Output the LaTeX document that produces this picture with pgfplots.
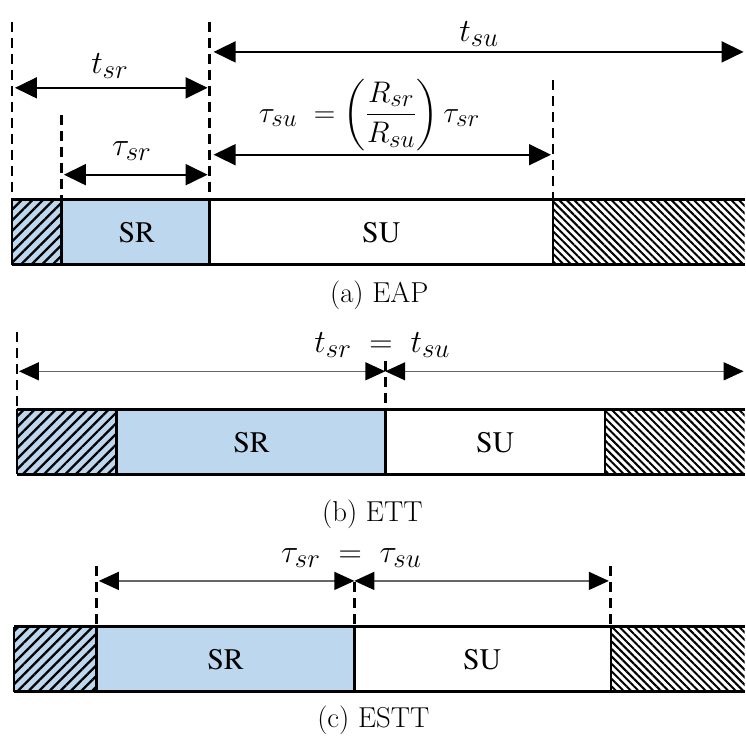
\documentclass[border=0pt]{standalone}
\usepackage{amsmath}
\usepackage{graphicx}
\usepackage{fontspec}
\usepackage{pgfplots}
\pgfplotsset{compat=1.18}
\usetikzlibrary{arrows.meta,patterns.meta}
\definecolor{srblue}{RGB}{189,215,238}
\newcommand\ml[2][1.3]{\fontsize{24.88}{28}\selectfont\scalebox{#1}{$#2$}}
\newcommand\cp[1]{\fontsize{24.88}{28}\selectfont\scalebox{1.16}{#1}}
\newcommand\bl[1]{\fontencoding{T1}\fontfamily{ptm}\fontsize{24.88}{28}\selectfont\scalebox{1.2}{#1}}
\tikzset{
  bx/.style={line width=2.8pt, draw=black},
  hl/.style={draw=none, pattern={Lines[angle=45,distance=7.5pt,line width=2.3pt]}, pattern color=black},
  hr/.style={draw=none, pattern={Lines[angle=-45,distance=5.3pt,line width=2pt]}, pattern color=black},
  dsh/.style={line width=2.8pt, dash pattern=on 10pt off 6pt},
  arr/.style={line width=1.8pt, {Triangle[length=22pt,width=21pt]}-{Triangle[length=22pt,width=21pt]}},
  arrt/.style={line width=1.5pt, black!60, {Triangle[length=20pt,width=18pt,color=black]}-{Triangle[length=20pt,width=18pt,color=black]}},
  mylab/.style={inner sep=0pt},
}
\begin{document}
\begin{tikzpicture}
\begin{axis}[
  width=746pt, height=742pt, scale only axis,
  xmin=0, xmax=746, ymin=0, ymax=742, y dir=reverse,
  hide axis, clip=false,
]
\addplot[draw=none] coordinates {(0,0) (746,742)};

% ---------------- (a) EAP ----------------
\addplot[fill=srblue, draw=none] coordinates {(12,200) (210,200) (210,265) (12,265)};
\addplot[hl] coordinates {(12,200) (62,200) (62,265) (12,265)};
\addplot[hr] coordinates {(554,200) (746,200) (746,265) (554,265)};
\addplot[bx] coordinates {(12,200) (746,200)};
\addplot[bx] coordinates {(12,265) (746,265)};
\addplot[bx] coordinates {(12,200) (12,265)};
\addplot[bx] coordinates {(62,200) (62,265)};
\addplot[bx] coordinates {(210,200) (210,265)};
\addplot[bx] coordinates {(554,200) (554,265)};
\addplot[dsh] coordinates {(12,22) (12,200)};
\addplot[dsh] coordinates {(62,115) (62,200)};
\addplot[dsh] coordinates {(210,22) (210,200)};
\addplot[dsh] coordinates {(554,80) (554,200)};
\addplot[arr] coordinates {(15,88) (208,88)};
\addplot[arr] coordinates {(64,175) (208,175)};
\addplot[arr] coordinates {(214,52) (745,52)};
\addplot[arr] coordinates {(214,155) (552,155)};
\node[mylab] at (axis cs:110,66) {\ml{t_{sr}}};
\node[mylab] at (axis cs:132,151) {\ml{\tau_{sr}}};
\node[mylab] at (axis cs:480,34) {\ml{t_{su}}};
\node[mylab] at (axis cs:370,115) {\ml[1.2]{\tau_{su}\;=\left(\dfrac{R_{sr}}{R_{su}}\right)\tau_{sr}}};
\node at (axis cs:137,233) {\bl{SR}};
\node at (axis cs:382,233) {\bl{SU}};
\node at (axis cs:380,296) {\cp{(a) EAP}};

% ---------------- (b) ETT ----------------
\addplot[fill=srblue, draw=none] coordinates {(17,410) (386,410) (386,475) (17,475)};
\addplot[hl] coordinates {(17,410) (117,410) (117,475) (17,475)};
\addplot[hr] coordinates {(606,410) (746,410) (746,475) (606,475)};
\addplot[bx] coordinates {(17,410) (746,410)};
\addplot[bx] coordinates {(17,475) (746,475)};
\addplot[bx] coordinates {(17,410) (17,475)};
\addplot[bx] coordinates {(117,410) (117,475)};
\addplot[bx] coordinates {(386,410) (386,475)};
\addplot[bx, line width=1.6pt] coordinates {(606,410) (606,475)};
\addplot[dsh] coordinates {(17,333) (17,410)};
\addplot[dsh] coordinates {(386,362) (386,410)};
\addplot[arrt] coordinates {(19,372) (386,372)};
\addplot[arrt] coordinates {(386,372) (745,372)};
\node[mylab] at (axis cs:383,346) {\ml{t_{sr}\;=\;t_{su}}};
\node at (axis cs:252,443) {\bl{SR}};
\node at (axis cs:496,443) {\bl{SU}};
\node at (axis cs:373,515) {\cp{(b) ETT}};

% ---------------- (c) ESTT ----------------
\addplot[fill=srblue, draw=none] coordinates {(14,628) (355,628) (355,693) (14,693)};
\addplot[hl] coordinates {(14,628) (97,628) (97,693) (14,693)};
\addplot[hr] coordinates {(612,628) (746,628) (746,693) (612,693)};
\addplot[bx] coordinates {(14,628) (746,628)};
\addplot[bx] coordinates {(14,693) (746,693)};
\addplot[bx] coordinates {(14,628) (14,693)};
\addplot[bx] coordinates {(97,628) (97,693)};
\addplot[bx] coordinates {(355,628) (355,693)};
\addplot[bx, line width=1.6pt] coordinates {(612,628) (612,693)};
\addplot[dsh] coordinates {(97,567) (97,628)};
\addplot[dsh] coordinates {(355,583) (355,628)};
\addplot[dsh] coordinates {(612,567) (612,628)};
\addplot[arrt] coordinates {(99,582) (355,582)};
\addplot[arrt] coordinates {(355,582) (610,582)};
\node[mylab] at (axis cs:352,559) {\ml{\tau_{sr}\;=\;\tau_{su}}};
\node at (axis cs:226,661) {\bl{SR}};
\node at (axis cs:483,661) {\bl{SU}};
\node at (axis cs:374,722) {\cp{(c) ESTT}};
\end{axis}
\end{tikzpicture}
\end{document}
